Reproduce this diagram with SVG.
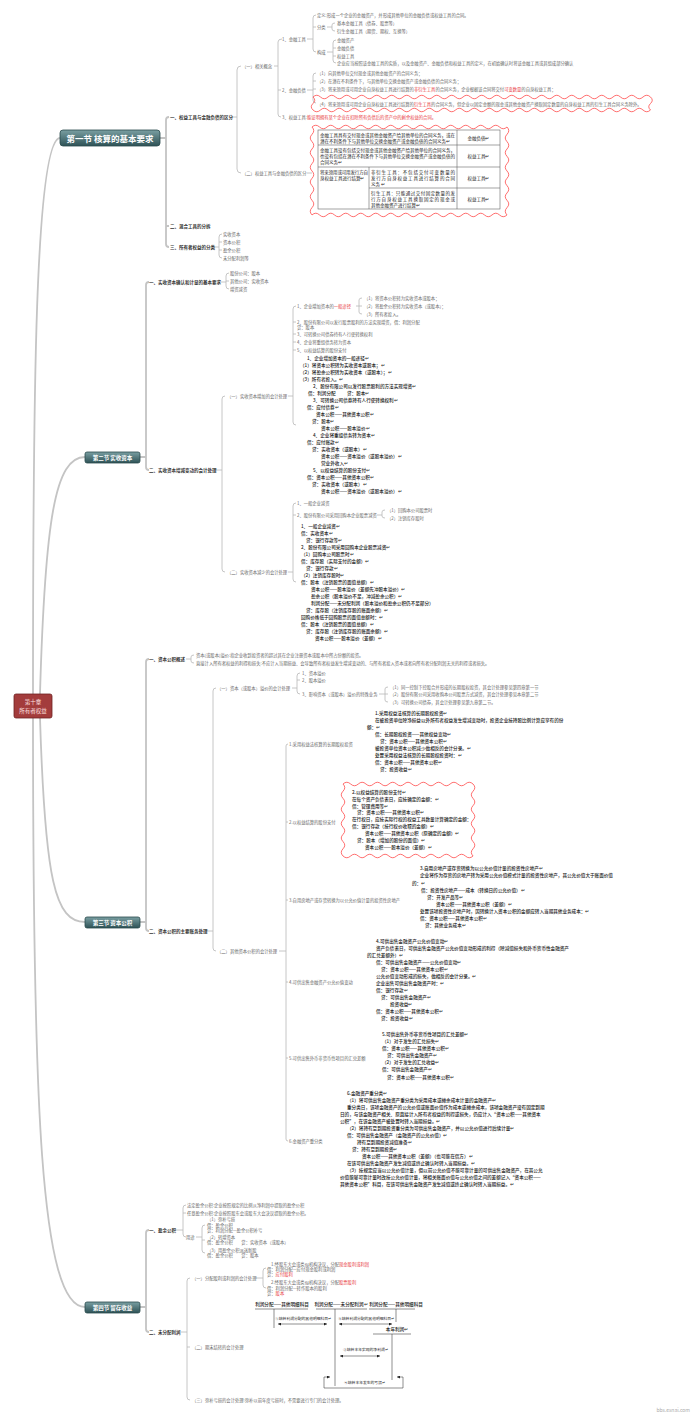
<svg xmlns="http://www.w3.org/2000/svg" width="700" height="1416" viewBox="0 0 700 1416">
<style>
text{font-family:"Noto Sans CJK SC","Noto Sans",sans-serif;dominant-baseline:central}
.l{font-size:4.3px;fill:#666}
.h{font-size:4.5px;fill:#333;font-weight:700}
.b{font-size:4.6px;fill:#1a1a1a;font-weight:500}
.t{font-size:4.5px;fill:#222}
.s{font-size:3.8px;fill:#222}
.r{fill:#e8383d}
.k{fill:none;stroke:#b8b8b8;stroke-width:0.8}
.K{fill:none;stroke:#c4c4c4;stroke-width:1.8}
.w{fill:none;stroke:#ff4a4a;stroke-width:0.8}
.ln{fill:none;stroke:#444;stroke-width:0.6}
.sec{fill:url(#sg);stroke:#2a4a4d;stroke-width:0.8}
.st{fill:#fff;font-weight:700}
</style>
<defs>
<linearGradient id="sg" x1="0" y1="0" x2="0" y2="1"><stop offset="0" stop-color="#7a9fa2"/><stop offset="1" stop-color="#2e5256"/></linearGradient>
<marker id="ah" viewBox="0 0 4 4" refX="4" refY="2" markerWidth="3" markerHeight="3" orient="auto-start-reverse" markerUnits="userSpaceOnUse"><path d="M0,0L4,2L0,4z" fill="#222"/></marker>
</defs>
<rect width="700" height="1416" fill="#fff"/>

<g id="connectors">
<path class="K" d="M33,694C33,400 35,140 60,138"/>
<path class="K" d="M40,694C45,520 55,457 85,457"/>
<path class="K" d="M40,718C45,880 55,922 85,922"/>
<path class="K" d="M33,718C33,1100 40,1307 85,1307"/>
<path class="K" d="M160,138H166M169,117Q166,117 166,120V244Q166,247 169,247M166,226h3"/>
<path class="k" d="M231,117H237M241,66Q237,66 237,70V169Q237,173 241,173"/>
<path class="k" d="M274,66H278M282,39Q278,39 278,42V114Q278,117 281,117M278,90h3"/>
<path class="k" d="M307,39H313M316,15Q313,15 313,18V49Q313,52 316,52M313,27h3"/>
<path class="k" d="M327,27H332M335,23Q332,23 332,25V29Q332,31 335,31"/>
<path class="k" d="M327,52H333M336,40Q333,40 333,43V60Q333,63 336,63M333,48h3M333,56h3"/>
<path class="k" d="M307,90H313M316,73Q313,73 313,76V100Q313,103 316,103M313,81h3M313,89h3"/>
<path class="k" d="M307,173H312"/>
<path class="k" d="M214,247H219M222,234Q219,234 219,237V255Q219,258 222,258M219,242h3M219,250h3"/>
<path class="K" d="M140,457H146M149,282Q146,282 146,285V467Q146,470 149,470"/>
<path class="k" d="M221,282H226M229,273Q226,273 226,276V286Q226,289 229,289M226,281h3"/>
<path class="k" d="M216,470H222M225,396Q222,396 222,399V569Q222,572 225,572"/>
<path class="k" d="M288,396H293M296,306Q293,306 293,309V422Q293,425 296,425M293,322h3M293,334h3M293,342h3M293,350h3"/>
<path class="k" d="M356,306H359M362,298Q359,298 359,300V312Q359,314 362,314M359,306h3"/>
<path class="k" d="M288,572H293M296,503Q293,503 293,506V579Q293,582 296,582M293,515h3"/>
<path class="k" d="M377,515H382M385,510Q382,510 382,512V516Q382,518 385,518"/>
<path class="K" d="M140,922H146M149,659Q146,659 146,662V928Q146,931 149,931"/>
<path class="k" d="M186,659H191M194,655Q191,655 191,657V661Q191,663 194,663"/>
<path class="k" d="M206,931H213M216,688Q213,688 213,691V948Q213,951 216,951"/>
<path class="k" d="M292,688H297M300,673Q297,673 297,676V691Q297,694 300,694M297,680h3"/>
<path class="k" d="M379,694H385M388,687Q385,687 385,689V700Q385,702 388,702M385,694h3"/>
<path class="k" d="M279,951H286M288,744Q286,744 286,746V1139Q286,1141 288,1141M286,822h2M286,900h2M286,982h2M286,1058h2"/>
<path class="K" d="M140,1307H146M149,1230Q146,1230 146,1233V1329Q146,1332 149,1332"/>
<path class="k" d="M174,1230H183M186,1205Q183,1205 183,1208V1234Q183,1237 186,1237M183,1213h3"/>
<path class="k" d="M196,1237H202M205,1225Q202,1225 202,1228V1250Q202,1253 205,1253M202,1240h3"/>
<path class="k" d="M181,1332H187M190,1278Q187,1278 187,1281V1397Q187,1400 190,1400M187,1347h3"/>
<path class="k" d="M256,1278H263M266,1268Q263,1268 263,1271V1285Q263,1288 266,1288"/>
</g>

<g id="root"><rect x="14" y="694" width="38" height="24" rx="2" fill="#a33c3c" stroke="#6e2222" stroke-width="0.8"/><text x="33" y="702" font-size="5.5" fill="#ffe0e0" text-anchor="middle">第十章</text><text x="33" y="711" font-size="5.5" fill="#ffe0e0" text-anchor="middle">所有者权益</text></g>
<g id="sec1"><rect class="sec" x="60" y="130" width="100" height="16" rx="3"/><text class="st" x="110" y="138" font-size="8.5" text-anchor="middle">第一节  核算的基本要求</text></g>
<g id="sec2"><rect class="sec" x="85" y="452" width="55" height="11" rx="2"/><text class="st" x="112.5" y="457.5" font-size="5.5" text-anchor="middle">第二节  实收资本</text></g>
<g id="sec3"><rect class="sec" x="85" y="917" width="55" height="11" rx="2"/><text class="st" x="112.5" y="922.5" font-size="5.5" text-anchor="middle">第三节  资本公积</text></g>
<g id="sec4"><rect class="sec" x="85" y="1302" width="55" height="11" rx="2"/><text class="st" x="112.5" y="1307.5" font-size="5.5" text-anchor="middle">第四节  留存收益</text></g>

<g id="s1-1"><text class="h" x="170" y="117">一、权益工具与金融负债的区分</text></g>
<g id="s1-1-1"><text class="l" x="242" y="66">（一）相关概念</text></g>
<g id="s1-fi"><text class="l" x="282" y="39">1、金融工具</text></g>
<g id="s1-fi-def"><text class="l" x="317" y="15">定义:形成一个企业的金融资产，并形成其他单位的金融负债或权益工具的合同。</text></g>
<g id="s1-fi-cls"><text class="l" x="317" y="27">分类</text></g>
<g id="s1-fi-c1"><text class="l" x="337" y="23">基本金融工具（债券、股票等）</text></g>
<g id="s1-fi-c2"><text class="l" x="337" y="31">衍生金融工具（期货、期权、互换等）</text></g>
<g id="s1-fi-com"><text class="l" x="317" y="52">构成</text></g>
<g id="s1-fi-m1"><text class="l" x="337" y="40">金融资产</text></g>
<g id="s1-fi-m2"><text class="l" x="337" y="48">金融负债</text></g>
<g id="s1-fi-m3"><text class="l" x="337" y="56">权益工具</text></g>
<g id="s1-fi-m4"><text class="l" x="337" y="63">企业应当按照该金融工具的实质，以及金融资产、金融负债和权益工具的定义，在初始确认时将该金融工具或其组成部分确认</text></g>
<g id="s1-fl"><text class="l" x="282" y="90">2、金融负债</text></g>
<g id="s1-fl1"><text class="l" x="317" y="73">（1）向其他单位交付现金或其他金融资产的合同义务；</text></g>
<g id="s1-fl2"><text class="l" x="317" y="81">（2）在潜在不利条件下，与其他单位交换金融资产或金融负债的合同义务；</text></g>
<g id="s1-fl3"><text class="l" x="317" y="89">（3）将来须用或可用企业自身权益工具进行结算的<tspan class="r">非衍生工具</tspan>的合同义务，企业根据该合同将交付<tspan class="r">可变数量</tspan>的自身权益工具；</text></g>
<g id="s1-fl4"><path class="w" d="M313,97q3.75,-3.5 7.5,0t7.5,0t7.5,0t7.5,0t7.5,0t7.5,0t7.5,0t7.5,0t7.5,0t7.5,0t7.5,0t7.5,0t7.5,0t7.5,0t7.5,0t7.5,0t7.5,0t7.5,0t7.5,0t7.5,0t7.5,0t7.5,0t7.5,0t7.5,0t7.5,0t7.5,0t7.5,0t7.5,0t7.5,0t7.5,0t7.5,0t7.5,0t7.5,0t7.5,0t7.5,0t7.5,0t7.5,0t7.5,0t7.5,0t7.5,0t7.5,0t7.5,0t7.5,0t7.5,0t7.5,0q3.5,3.25 0,6.5t0,6.5q-3.75,3.5 -7.5,0t-7.5,0t-7.5,0t-7.5,0t-7.5,0t-7.5,0t-7.5,0t-7.5,0t-7.5,0t-7.5,0t-7.5,0t-7.5,0t-7.5,0t-7.5,0t-7.5,0t-7.5,0t-7.5,0t-7.5,0t-7.5,0t-7.5,0t-7.5,0t-7.5,0t-7.5,0t-7.5,0t-7.5,0t-7.5,0t-7.5,0t-7.5,0t-7.5,0t-7.5,0t-7.5,0t-7.5,0t-7.5,0t-7.5,0t-7.5,0t-7.5,0t-7.5,0t-7.5,0t-7.5,0t-7.5,0t-7.5,0t-7.5,0t-7.5,0t-7.5,0t-7.5,0q-3.5,-3.25 0,-6.5t0,-6.5z"/><text class="l" x="317" y="103.5">（4）将来须用或可用企业自身权益工具进行结算的<tspan class="r">衍生工具</tspan>的合同义务，但企业以固定金额的现金或其他金融资产换取固定数量的自身权益工具的衍生工具合同义务除外。</text></g>
<g id="s1-eq"><text class="l" x="282" y="117">3、权益工具:<tspan class="r">能证明拥有某个企业在扣除所有负债后的资产中的剩余权益的合同。</tspan></text></g>
<g id="s1-1-2"><text class="l" x="242" y="173">（二）权益工具与金融负债的区分</text></g>
<g id="s1-table">
<path class="w" d="M312,127q3.75,-3.5 7.5,0t7.5,0t7.5,0t7.5,0t7.5,0t7.5,0t7.5,0t7.5,0t7.5,0t7.5,0t7.5,0t7.5,0t7.5,0t7.5,0t7.5,0t7.5,0t7.5,0t7.5,0t7.5,0t7.5,0t7.5,0t7.5,0t7.5,0t7.5,0t7.5,0t7.5,0q3.5,3.67 0,7.33t0,7.33t0,7.33t0,7.33t0,7.33t0,7.33t0,7.33t0,7.33t0,7.33t0,7.33t0,7.33t0,7.33q-3.75,3.5 -7.5,0t-7.5,0t-7.5,0t-7.5,0t-7.5,0t-7.5,0t-7.5,0t-7.5,0t-7.5,0t-7.5,0t-7.5,0t-7.5,0t-7.5,0t-7.5,0t-7.5,0t-7.5,0t-7.5,0t-7.5,0t-7.5,0t-7.5,0t-7.5,0t-7.5,0t-7.5,0t-7.5,0t-7.5,0t-7.5,0q-3.5,-3.67 0,-7.33t0,-7.33t0,-7.33t0,-7.33t0,-7.33t0,-7.33t0,-7.33t0,-7.33t0,-7.33t0,-7.33t0,-7.33t0,-7.33z"/>
<rect x="318" y="130" width="182" height="79" fill="none" stroke="#666" stroke-width="0.6"/>
<path d="M457,130V209M318,145H500M318,167H500M369,167V209M369,188H500" fill="none" stroke="#666" stroke-width="0.6"/>
<text class="t" x="320" y="135" textLength="135" lengthAdjust="spacing">金融工具具有交付现金或其他金融资产给其他单位的合同义务，或在</text>
<text class="t" x="320" y="141">潜在不利条件下与其他单位交换金融资产或金融负债的合同义务↵</text>
<text class="t" x="478.5" y="137.5" text-anchor="middle">金融负债↵</text>
<text class="t" x="320" y="150" textLength="135" lengthAdjust="spacing">金融工具没有包括交付现金或其他金融资产给其他单位的合同义务，</text>
<text class="t" x="320" y="156" textLength="135" lengthAdjust="spacing">也没有包括在潜在不利条件下与其他单位交换金融资产或金融负债的</text>
<text class="t" x="320" y="162">合同义务↵</text>
<text class="t" x="478.5" y="156" text-anchor="middle">权益工具↵</text>
<text class="t" x="320" y="171.5" textLength="48" lengthAdjust="spacing">将来须用或可用发行方自</text>
<text class="t" x="320" y="177.5">身权益工具进行结算↵</text>
<text class="t" x="371" y="171.5" textLength="84" lengthAdjust="spacing">非衍生工具：不包括交付可变数量的</text>
<text class="t" x="371" y="177.5" textLength="84" lengthAdjust="spacing">发行方自身权益工具进行结算的合同</text>
<text class="t" x="371" y="183.5">义务 ↵</text>
<text class="t" x="478.5" y="177.5" text-anchor="middle">权益工具↵</text>
<text class="t" x="371" y="192.5" textLength="84" lengthAdjust="spacing">衍生工具：只能通过交付固定数量的发</text>
<text class="t" x="371" y="198.5" textLength="84" lengthAdjust="spacing">行方自身权益工具换取固定的现金或</text>
<text class="t" x="371" y="204.5">其他金融资产进行结算↵</text>
<text class="t" x="478.5" y="198.5" text-anchor="middle">权益工具↵</text>
</g>
<g id="s1-2"><text class="h" x="170" y="226">二、混合工具的分拆</text></g>
<g id="s1-3"><text class="h" x="170" y="247">三、所有者权益的分类</text></g>
<g id="s1-3a"><text class="l" x="223" y="234">实收资本</text></g>
<g id="s1-3b"><text class="l" x="223" y="242">资本公积</text></g>
<g id="s1-3c"><text class="l" x="223" y="250">盈余公积</text></g>
<g id="s1-3d"><text class="l" x="223" y="258">未分配利润等</text></g>

<g id="s2-1"><text class="h" x="149" y="282">一、实收资本确认和计量的基本要求</text></g>
<g id="s2-1a"><text class="l" x="230" y="273">股份公司：股本</text></g>
<g id="s2-1b"><text class="l" x="230" y="281">其他公司：实收资本</text></g>
<g id="s2-1c"><text class="l" x="230" y="289">增资减资</text></g>
<g id="s2-2"><text class="h" x="149" y="470">二、实收资本增减变动的会计处理</text></g>
<g id="s2-2-1"><text class="l" x="227" y="396">（一）实收资本增加的会计处理</text></g>
<g id="s2-2-1a"><text class="l" x="297" y="306">1、企业增加资本的<tspan class="r">一般途径</tspan></text></g>
<g id="s2-2-1a1"><text class="l" x="364" y="298">（1）将资本公积转为实收资本或股本；</text></g>
<g id="s2-2-1a2"><text class="l" x="364" y="306">（2）将盈余公积转为实收资本（或股本）；</text></g>
<g id="s2-2-1a3"><text class="l" x="364" y="314">（3）所有者投入。</text></g>
<g id="s2-2-1b"><text class="l" x="297" y="322">2、股份有限公司以发行股票股利的方法实现增资，借：利润分配</text><text class="l" x="297" y="327">贷：股本</text></g>
<g id="s2-2-1c"><text class="l" x="297" y="334">3、可转换公司债券持有人行使转换权利</text></g>
<g id="s2-2-1d"><text class="l" x="297" y="342">4、企业将重组债务转为资本</text></g>
<g id="s2-2-1e"><text class="l" x="297" y="350">5、以权益结算的股份支付</text></g>
<g id="s2-2-1blk">
<text class="b" x="307" y="358">1、企业增加资本的一般途径↵</text>
<text class="b" x="300" y="365">（1）将资本公积转为实收资本或股本；↵</text>
<text class="b" x="300" y="372">（2）将盈余公积转为实收资本（或股本）；↵</text>
<text class="b" x="300" y="379">（3）所有者投入。↵</text>
<text class="b" x="313" y="386">2、股份有限公司以发行股票股利的方法实现增资↵</text>
<text class="b" x="308" y="393">借：利润分配</text><text class="b" x="347" y="393">贷：股本↵</text>
<text class="b" x="313" y="400">3、可转换公司债券持有人行使转换权利↵</text>
<text class="b" x="307" y="407">借：应付债券↵</text>
<text class="b" x="316" y="414">资本公积——其他资本公积↵</text>
<text class="b" x="312" y="421">贷：股本↵</text>
<text class="b" x="321" y="428">资本公积——股本溢价↵</text>
<text class="b" x="313" y="435">4、企业将重组债务转为资本↵</text>
<text class="b" x="307" y="442">借：应付账款↵</text>
<text class="b" x="312" y="449">贷：实收资本（或股本）↵</text>
<text class="b" x="321" y="456">资本公积——资本溢价（或股本溢价）↵</text>
<text class="b" x="321" y="463">营业外收入↵</text>
<text class="b" x="313" y="470">5、以权益结算的股份支付↵</text>
<text class="b" x="307" y="477">借：资本公积——其他资本公积↵</text>
<text class="b" x="312" y="484">贷：实收资本（或股本）↵</text>
<text class="b" x="321" y="491">资本公积——资本溢价（或股本溢价）↵</text>
</g>
<g id="s2-2-2"><text class="l" x="227" y="572">（二）实收资本减少的会计处理</text></g>
<g id="s2-2-2a"><text class="l" x="297" y="503">1、一般企业减资</text></g>
<g id="s2-2-2b"><text class="l" x="297" y="515">2、股份有限公司采用回购本企业股票减资</text></g>
<g id="s2-2-2b1"><text class="l" x="387" y="510">（1）回购本公司股票时</text></g>
<g id="s2-2-2b2"><text class="l" x="387" y="518">（2）注销库存股时</text></g>
<g id="s2-2-2blk">
<text class="b" x="301" y="526">1、一般企业减资↵</text>
<text class="b" x="301" y="533">借：实收资本↵</text>
<text class="b" x="306" y="540">贷：银行存款等↵</text>
<text class="b" x="301" y="547">2、股份有限公司采用回购本企业股票减资↵</text>
<text class="b" x="301" y="554">（1）回购本公司股票时↵</text>
<text class="b" x="301" y="561">借：库存股（实际支付的金额）↵</text>
<text class="b" x="306" y="568">贷：银行存款↵</text>
<text class="b" x="301" y="575">（2）注销库存股时↵</text>
<text class="b" x="301" y="582">借：股本（注销股票的面值总额）↵</text>
<text class="b" x="311" y="589">资本公积——股本溢价（差额先冲股本溢价）↵</text>
<text class="b" x="311" y="596">盈余公积（股本溢价不足，冲减盈余公积）↵</text>
<text class="b" x="311" y="603">利润分配——未分配利润（股本溢价和盈余公积仍不足部分）</text>
<text class="b" x="306" y="610">贷：库存股（注销库存股的账面余额）↵</text>
<text class="b" x="301" y="617">回购价格低于回购股票的面值总额时：↵</text>
<text class="b" x="301" y="624">借：股本（注销股票的面值总额）↵</text>
<text class="b" x="306" y="631">贷：库存股（注销库存股的账面余额）↵</text>
<text class="b" x="315" y="638">资本公积——股本溢价（差额）↵</text>
</g>

<g id="s3-1"><text class="h" x="149" y="659">一、资本公积概述</text></g>
<g id="s3-1a"><text class="l" x="196" y="655">资本(或股本)溢价:指企业收到投资者的超过其在企业注册资本或股本中所占份额的投资。</text></g>
<g id="s3-1b"><text class="l" x="196" y="663">直接计入所有者权益的利得和损失:不应计入当期损益、会导致所有者权益发生增减变动的、与所有者投入资本或者向所有者分配利润无关的利得或者损失。</text></g>
<g id="s3-2"><text class="h" x="149" y="931">二、资本公积的主要账务处理</text></g>
<g id="s3-2-1"><text class="l" x="217" y="688">（一）资本（或股本）溢价的会计处理</text></g>
<g id="s3-2-1a"><text class="l" x="302" y="673">1、资本溢价</text></g>
<g id="s3-2-1b"><text class="l" x="302" y="680">2、股本溢价</text></g>
<g id="s3-2-1c"><text class="l" x="302" y="694">3、影响资本（或股本）溢价的特殊业务</text></g>
<g id="s3-2-1c1"><text class="l" x="390" y="687">（1）同一控制下控股合并形成的长期股权投资，其会计处理参见第四章第一节</text></g>
<g id="s3-2-1c2"><text class="l" x="390" y="694">（2）股份有限公司采用收购本公司股票方式减资，其会计处理参见本章第二节</text></g>
<g id="s3-2-1c3"><text class="l" x="390" y="702">（3）可转换公司债券，其会计处理参见第九章第二节。</text></g>
<g id="s3-2-2"><text class="l" x="217" y="951">（二）其他资本公积的会计处理</text></g>
<g id="s3-2-2a"><text class="l" x="289" y="744">1.采用权益法核算的长期股权投资</text></g>
<g id="s3-2-2a-blk">
<text class="b" x="375" y="713">1.采用权益法核算的长期股权投资↵</text>
<text class="b" x="375" y="720">在被投资单位除净损益以外所有者权益发生增减变动时，投资企业按持股比例计算应享有的份</text>
<text class="b" x="367" y="727">额：↵</text>
<text class="b" x="375" y="734">借：长期股权投资——其他权益变动↵</text>
<text class="b" x="380" y="741">贷：资本公积——其他资本公积↵</text>
<text class="b" x="375" y="748">被投资单位资本公积减少做相反的会计分录。↵</text>
<text class="b" x="375" y="755">处置采用权益法核算的长期股权投资时：↵</text>
<text class="b" x="375" y="762">借：资本公积——其他资本公积↵</text>
<text class="b" x="380" y="769">贷：投资收益↵</text>
</g>
<g id="s3-2-2b"><text class="l" x="289" y="822">2.以权益结算的股份支付</text></g>
<g id="s3-2-2b-blk">
<path class="w" d="M343,784q3.82,-3.5 7.65,0t7.65,0t7.65,0t7.65,0t7.65,0t7.65,0t7.65,0t7.65,0t7.65,0t7.65,0t7.65,0t7.65,0t7.65,0t7.65,0t7.65,0t7.65,0t7.65,0q3.5,3.6 0,7.2t0,7.2t0,7.2t0,7.2t0,7.2t0,7.2t0,7.2t0,7.2t0,7.2t0,7.2q-3.82,3.5 -7.65,0t-7.65,0t-7.65,0t-7.65,0t-7.65,0t-7.65,0t-7.65,0t-7.65,0t-7.65,0t-7.65,0t-7.65,0t-7.65,0t-7.65,0t-7.65,0t-7.65,0t-7.65,0t-7.65,0q-3.5,-3.6 0,-7.2t0,-7.2t0,-7.2t0,-7.2t0,-7.2t0,-7.2t0,-7.2t0,-7.2t0,-7.2t0,-7.2z"/>
<text class="b" x="352" y="792">2.以权益结算的股份支付↵</text>
<text class="b" x="352" y="799">在每个资产负债表日，应按确定的金额：↵</text>
<text class="b" x="352" y="806">借：管理费用等↵</text>
<text class="b" x="357" y="812">贷：资本公积——其他资本公积↵</text>
<text class="b" x="352" y="819">在行权日，应按实际行权的权益工具数量计算确定的金额：</text>
<text class="b" x="352" y="826">借：银行存款（按行权价收取的金额）↵</text>
<text class="b" x="365" y="833">资本公积——其他资本公积（原确定的金额）↵</text>
<text class="b" x="357" y="840">贷：股本（增加的股份的面值）↵</text>
<text class="b" x="365" y="847">资本公积——股本溢价（差额）↵</text>
</g>
<g id="s3-2-2c"><text class="l" x="289" y="900">3.自用房地产或存货转换为以公允价值计量的投资性房地产</text></g>
<g id="s3-2-2c-blk">
<text class="b" x="420" y="868">3.自用房地产或存货转换为以公允价值计量的投资性房地产↵</text>
<text class="b" x="420" y="875">企业将作为存货的房地产转为采用公允价值模式计量的投资性房地产，其公允价值大于账面价值</text>
<text class="b" x="412" y="883">的：↵</text>
<text class="b" x="421" y="890">借：投资性房地产——成本（转换日的公允价值）↵</text>
<text class="b" x="427" y="897">贷：开发产品等↵</text>
<text class="b" x="436" y="904">资本公积——其他资本公积（差额）↵</text>
<text class="b" x="420" y="911">处置该项投资性房地产时，因转换计入资本公积的金额应转入当期其他业务成本：↵</text>
<text class="b" x="420" y="918">借：资本公积——其他资本公积↵</text>
<text class="b" x="425" y="925">贷：其他业务成本↵</text>
</g>
<g id="s3-2-2d"><text class="l" x="289" y="982">4.可供出售金融资产公允价值变动</text></g>
<g id="s3-2-2d-blk">
<text class="b" x="376" y="941">4.可供出售金融资产公允价值变动↵</text>
<text class="b" x="376" y="948">资产负债表日，可供出售金融资产公允价值变动形成的利得（除减值损失和外币货币性金融资产</text>
<text class="b" x="367" y="955">的汇兑差额外）↵</text>
<text class="b" x="376" y="962">借：可供出售金融资产——公允价值变动↵</text>
<text class="b" x="381" y="969">贷：资本公积——其他资本公积↵</text>
<text class="b" x="376" y="976">公允价值变动形成的损失，做相反的会计分录。↵</text>
<text class="b" x="376" y="983">企业出售可供出售金融资产时：↵</text>
<text class="b" x="376" y="990">借：银行存款↵</text>
<text class="b" x="381" y="997">贷：可供出售金融资产↵</text>
<text class="b" x="390" y="1004">投资收益↵</text>
<text class="b" x="376" y="1011">借：资本公积——其他资本公积↵</text>
<text class="b" x="381" y="1018">贷：投资收益↵</text>
</g>
<g id="s3-2-2e"><text class="l" x="289" y="1058">5.可供出售外币非货币性项目的汇兑差额</text></g>
<g id="s3-2-2e-blk">
<text class="b" x="382" y="1034">5.可供出售外币非货币性项目的汇兑差额↵</text>
<text class="b" x="382" y="1041">（1）对于发生的汇兑损失↵</text>
<text class="b" x="382" y="1048">借：资本公积——其他资本公积↵</text>
<text class="b" x="387" y="1055">贷：可供出售金融资产↵</text>
<text class="b" x="382" y="1062">（2）对于发生的汇兑收益↵</text>
<text class="b" x="382" y="1069">借：可供出售金融资产↵</text>
<text class="b" x="387" y="1077">贷：资本公积——其他资本公积↵</text>
</g>
<g id="s3-2-2f"><text class="l" x="289" y="1141">6.金融资产重分类</text></g>
<g id="s3-2-2f-blk">
<text class="b" x="347" y="1093">6.金融资产重分类↵</text>
<text class="b" x="347" y="1100">（1）将可供出售金融资产重分类为采用成本或摊余成本计量的金融资产↵</text>
<text class="b" x="347" y="1107">重分类日，该项金融资产的公允价值或账面价值作为成本或摊余成本，该项金融资产没有固定到期</text>
<text class="b" x="340" y="1114">日的，与该金融资产相关、原直接计入所有者权益的利得或损失，仍应计入“资本公积——其他资本</text>
<text class="b" x="340" y="1121">公积”，在该金融资产被处置时转入当期损益。↵</text>
<text class="b" x="347" y="1128">（2）将持有至到期投资重分类为可供出售金融资产，并以公允价值进行后续计量↵</text>
<text class="b" x="347" y="1135">借：可供出售金融资产（金融资产的公允价值）↵</text>
<text class="b" x="357" y="1142">持有至到期投资减值准备↵</text>
<text class="b" x="352" y="1149">贷：持有至到期投资↵</text>
<text class="b" x="362" y="1156">资本公积——其他资本公积（差额）（也可能在借方）↵</text>
<text class="b" x="347" y="1163">在该可供出售金融资产发生减值或终止确认时转入当期损益。↵</text>
<text class="b" x="347" y="1170">（3）按规定应当以公允价值计量，但以前公允价值不能可靠计量的可供出售金融资产，在其公允</text>
<text class="b" x="340" y="1177">价值能够可靠计量时改按公允价值计量，将相关账面价值与公允价值之间的差额记入“资本公积——</text>
<text class="b" x="340" y="1184">其他资本公积”科目，在该可供出售金融资产发生减值或终止确认时转入当期损益。↵</text>
</g>

<g id="s4-1"><text class="h" x="149" y="1230">一、盈余公积</text></g>
<g id="s4-1a"><text class="l" x="187" y="1205">法定盈余公积:企业按照规定的比例从净利润中提取的盈余公积</text></g>
<g id="s4-1b"><text class="l" x="187" y="1213">任意盈余公积:企业按照股东会或股东大会决议提取的盈余公积。</text></g>
<g id="s4-1c"><text class="l" x="186" y="1237">用途</text></g>
<g id="s4-1c1"><text class="l" x="207" y="1219">（1）弥补亏损</text><text class="l" x="207" y="1225">借：盈余公积</text><text class="l" x="207" y="1230">贷：利润分配—盈余公积补亏</text></g>
<g id="s4-1c2"><text class="l" x="207" y="1237">（2）转增资本</text><text class="l" x="207" y="1242">借：盈余公积　　贷：实收资本（或股本）</text></g>
<g id="s4-1c3"><text class="l" x="207" y="1250">（3）用盈余公积派送新股</text><text class="l" x="207" y="1255">借：盈余公积　　贷：股本</text></g>
<g id="s4-2"><text class="h" x="149" y="1332">二、未分配利润</text></g>
<g id="s4-2-1"><text class="l" x="192" y="1278">（一）分配股利或利润的会计处理</text></g>
<g id="s4-2-1a"><text class="l" x="271" y="1264">1.经股东大会或类似机构决议，分配<tspan class="r">现金股利或利润</tspan></text><text class="l" x="267" y="1269">借：利润分配—应付现金股利或利润</text><text class="l" x="267" y="1274">贷：<tspan class="r">应付股利</tspan></text></g>
<g id="s4-2-1b"><text class="l" x="271" y="1282">2.经股东大会或类似机构决议，分配<tspan class="r">股票股利</tspan></text><text class="l" x="267" y="1288">借：利润分配—转作股本的股利</text><text class="l" x="267" y="1293">贷：<tspan class="r">股本</tspan></text></g>
<g id="s4-2-2"><text class="l" x="192" y="1347">（二）期末结转的会计处理</text></g>
<g id="s4-2-2-tacc">
<text class="b" x="282" y="1304" text-anchor="middle">利润分配——其他明细科目</text>
<text class="b" x="341" y="1304" text-anchor="middle">利润分配——未分配利润↵</text>
<text class="b" x="396" y="1304" text-anchor="middle">利润分配——其他明细科目</text>
<path class="ln" d="M255,1309H308M316,1309H367M369,1309H415M274,1309V1328M335,1309V1386M396,1309V1322M373,1334H411M392,1334V1380"/>
<text class="s" x="275" y="1318">①结转利润分配的其他明细科目↵</text>
<text class="s" x="338" y="1318">②结转利润分配的其他明细科目↵</text>
<text class="b" x="397" y="1329" text-anchor="middle">本年利润↵</text>
<text class="s" x="343" y="1349">③结转本年实现的净利润↵</text>
<text class="s" x="344" y="1382">④结转本年发生的亏损↵</text>
<path class="ln" d="M278,1324H327" marker-start="url(#ah)" marker-end="url(#ah)"/>
<path class="ln" d="M339,1324H392" marker-start="url(#ah)" marker-end="url(#ah)"/>
<path class="ln" d="M340,1356H380" marker-start="url(#ah)" marker-end="url(#ah)"/>
<path class="ln" d="M330,1377H324V1388H403V1377H397" marker-start="url(#ah)" marker-end="url(#ah)"/>
</g>
<g id="s4-2-3"><text class="l" x="192" y="1400">（三）弥补亏损的会计处理:弥补以前年度亏损时，不需要进行专门的会计处理。</text></g>
<g id="wm"><text x="690" y="1409" font-size="5" fill="#aaa" text-anchor="end">bbs.esnai.com</text></g>
</svg>
